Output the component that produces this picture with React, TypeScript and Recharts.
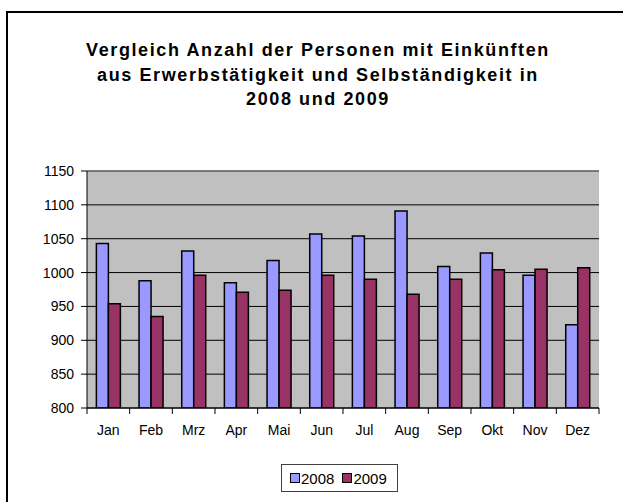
import React from "react"
import { BarChart, Bar, XAxis, YAxis, CartesianGrid, ReferenceLine } from "recharts"

const months = ["Jan", "Feb", "Mrz", "Apr", "Mai", "Jun", "Jul", "Aug", "Sep", "Okt", "Nov", "Dez"]
const values2008 = [1043, 988, 1032, 985, 1018, 1057, 1054, 1091, 1009, 1029, 996, 923]
const values2009 = [954, 935, 996, 971, 974, 996, 990, 968, 990, 1004, 1005, 1007]
const yTicks = [800, 850, 900, 950, 1000, 1050, 1100, 1150]
const titleLines = [
  "Vergleich Anzahl der Personen mit Einkünften",
  "aus Erwerbstätigkeit und Selbständigkeit in",
  "2008 und 2009",
]

const data = months.map((m, i) => ({ month: m, y2008: values2008[i], y2009: values2009[i] }))

const FONT = "'Liberation Sans', Arial, sans-serif"
const PLOT_LEFT = 87
const PLOT_RIGHT = 599
const BAND = (PLOT_RIGHT - PLOT_LEFT) / months.length

// Excel-style category tick: label in the middle, tick mark between categories
function MonthTick(props: any) {
  const { x, y, payload, index } = props
  const left = x - BAND / 2
  return (
    <g>
      <line x1={left} y1={y} x2={left} y2={y + 6} stroke="#000" />
      {index === months.length - 1 && (
        <line x1={left + BAND} y1={y} x2={left + BAND} y2={y + 6} stroke="#000" />
      )}
      <text x={x} y={y + 27} textAnchor="middle" fontSize={14} fill="#000" fontFamily={FONT}>
        {payload.value}
      </text>
    </g>
  )
}

export default function App() {
  return (
    <div style={{ position: "absolute", left: 0, top: 0, width: 623, height: 502, background: "#fff", overflow: "hidden", fontFamily: FONT }}>
      <div style={{ position: "absolute", left: 6, top: 11, width: 660, height: 540, border: "2px solid #000" }} />
      <div style={{ position: "absolute", left: 1, top: 38, width: 634, textAlign: "center", fontWeight: "bold", fontSize: 18, letterSpacing: 1.6, lineHeight: "24.5px", color: "#000" }}>
        {titleLines.map((t) => (
          <div key={t}>{t}</div>
        ))}
      </div>
      <div style={{ position: "absolute", left: 0, top: 0 }}>
        <BarChart
          width={623}
          height={502}
          data={data}
          margin={{ top: 171, right: 24, left: 27, bottom: 64 }}
          barCategoryGap="22%"
          barGap={0}
        >
          <CartesianGrid vertical={false} stroke="#000" fill="#C0C0C0" fillOpacity={1} />
          <XAxis
            dataKey="month"
            tick={<MonthTick />}
            tickLine={false}
            tickSize={0}
            tickMargin={0}
            axisLine={{ stroke: "#000" }}
            height={30}
            interval={0}
          />
          <YAxis
            domain={[800, 1150]}
            ticks={yTicks}
            width={60}
            tickSize={6}
            tickMargin={7}
            tickLine={{ stroke: "#000" }}
            axisLine={{ stroke: "#000" }}
            tick={{ fontSize: 14, fill: "#000", fontFamily: FONT }}
            allowDataOverflow
          />
          <YAxis
            yAxisId="right"
            orientation="right"
            domain={[800, 1150]}
            width={0}
            tick={false}
            tickLine={false}
            axisLine={{ stroke: "#808080" }}
          />
          <ReferenceLine y={1150} stroke="#808080" />
          <Bar dataKey="y2008" fill="#9999FF" stroke="#000" strokeWidth={1.5} isAnimationActive={false} />
          <Bar dataKey="y2009" fill="#993366" stroke="#000" strokeWidth={1.5} isAnimationActive={false} />
        </BarChart>
      </div>
      <div style={{ position: "absolute", left: 281, top: 464, width: 117, height: 28, border: "1px solid #404040", boxSizing: "border-box", display: "flex", alignItems: "center", fontSize: 15, color: "#000" }}>
        <span style={{ display: "inline-block", width: 10, height: 10, background: "#9999FF", border: "1px solid #000", boxSizing: "border-box", marginLeft: 8 }} />
        <span style={{ marginLeft: 1 }}>2008</span>
        <span style={{ display: "inline-block", width: 10, height: 10, background: "#993366", border: "1px solid #000", boxSizing: "border-box", marginLeft: 8 }} />
        <span style={{ marginLeft: 1 }}>2009</span>
      </div>
    </div>
  )
}
